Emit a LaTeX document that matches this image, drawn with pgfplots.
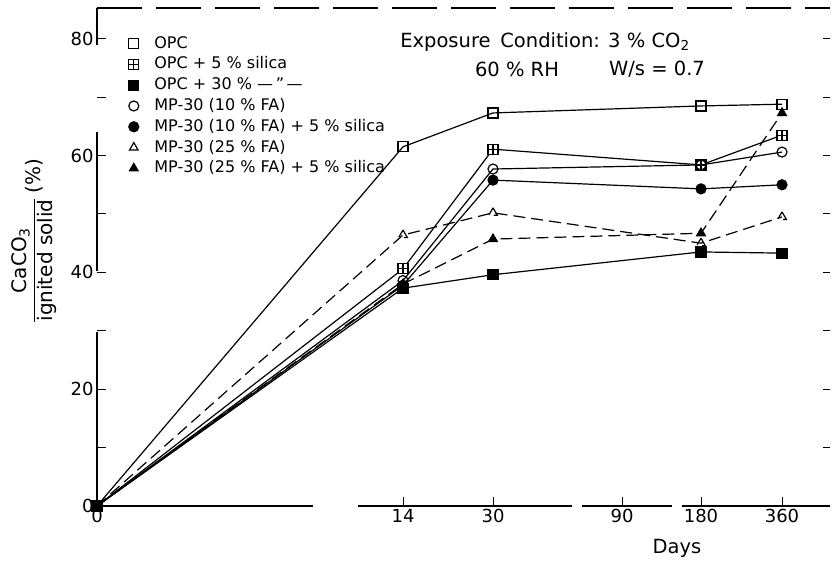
\documentclass[border=0pt]{standalone}
\usepackage{pgfplots}
\pgfplotsset{compat=1.18}
\usepackage{fontspec}
\setmainfont{DejaVu Sans}
\usetikzlibrary{plotmarks}

% square with a plus inside
\pgfdeclareplotmark{boxplus}{%
  \pgfpathrectangle{\pgfpoint{-\pgfplotmarksize}{-\pgfplotmarksize}}{\pgfpoint{2\pgfplotmarksize}{2\pgfplotmarksize}}%
  \pgfusepathqfillstroke
  \pgfpathmoveto{\pgfpoint{-\pgfplotmarksize}{0pt}}\pgfpathlineto{\pgfpoint{\pgfplotmarksize}{0pt}}%
  \pgfpathmoveto{\pgfpoint{0pt}{-\pgfplotmarksize}}\pgfpathlineto{\pgfpoint{0pt}{\pgfplotmarksize}}%
  \pgfusepathqstroke}

\begin{document}
\begin{tikzpicture}
\path[use as bounding box] (0pt,0pt) rectangle (834pt,563pt);
\begin{axis}[
  at={(97pt,57pt)}, anchor=south west,
  scale only axis, width=733pt, height=498pt,
  xmin=0, xmax=733, ymin=0, ymax=85.27,
  axis lines*=left, axis line style={draw=none},
  tick align=inside,
  xtick={0,306,396,525,604,685}, xticklabels={0,14,30,90,180,360},
  ytick={0,20,40,60,80}, minor ytick={10,30,50,70},
  major tick length=9pt, minor tick length=9pt,
  tick style={line width=1pt, black},
  ticklabel style={font=\fontsize{18}{21}\selectfont},
  /pgf/number format/assume math mode=true,
  clip=false,
  every axis plot/.append style={black, line width=1.2pt, mark size=5pt, mark options={solid}},
  legend style={at={(0.0423,0.945)}, anchor=north west, draw=none, fill=none, inner sep=0pt,
    font=\fontsize{16}{19}\selectfont, row sep=4.8pt,
    nodes={inner sep=1pt, text height=11.5pt, text depth=2.5pt}},
  legend cell align=left,
  legend image code/.code={\draw[#1,solid] plot coordinates {(5pt,0pt)}; \path (0pt,0pt) (24pt,0pt);},
]
% OPC
\addplot[mark=square, mark options={fill=white}] coordinates {(0,0)(306,61.5)(396,67.3)(604,68.5)(685,68.8)};
\addlegendentry{OPC}
% OPC + 5% silica
\addplot[mark=boxplus, mark options={fill=white}] coordinates {(0,0)(306,40.6)(396,61.1)(604,58.4)(685,63.5)};
\addlegendentry{OPC + 5 \% silica}
% OPC + 30%
\addplot[mark=square*] coordinates {(0,0)(306,37.3)(396,39.6)(604,43.5)(685,43.3)};
\addlegendentry{OPC + 30 \% ---\,''\,---}
% MP-30 (10% FA)
\addplot[mark=o, mark options={fill=white}] coordinates {(0,0)(306,38.6)(396,57.7)(604,58.4)(685,60.6)};
\addlegendentry{MP-30 (10 \% FA)}
% MP-30 (10% FA) + 5% silica
\addplot[mark=*] coordinates {(0,0)(306,37.8)(396,55.8)(604,54.3)(685,55.0)};
\addlegendentry{MP-30 (10 \% FA) + 5 \% silica}
% MP-30 (25% FA)
\addplot[dashed, dash pattern=on 12pt off 6pt, mark=triangle, mark options={fill=white}] coordinates {(0,0)(306,46.4)(396,50.2)(604,45.0)(685,49.5)};
\addlegendentry{MP-30 (25 \% FA)}
% MP-30 (25% FA) + 5% silica
\addplot[dashed, dash pattern=on 12pt off 6pt, mark=triangle*] coordinates {(0,0)(306,38.0)(396,45.7)(604,46.7)(685,67.3)};
\addlegendentry{MP-30 (25 \% FA) + 5 \% silica}

% broken frame, as in the scan
\draw[line width=1.2pt] (axis cs:0,0) -- (axis cs:216,0);
\draw[line width=1.2pt] (axis cs:261,0) -- (axis cs:475,0);
\draw[line width=1.2pt] (axis cs:485,0) -- (axis cs:575,0);
\draw[line width=1.2pt] (axis cs:585,0) -- (axis cs:733,0);
\draw[line width=1.2pt] (axis cs:0,0) -- (axis cs:0,29.8);
\draw[line width=1.2pt] (axis cs:0,40.2) -- (axis cs:0,64.0);
\draw[line width=1.2pt] (axis cs:0,78.9) -- (axis cs:0,85.27);
\draw[line width=1.2pt, dash pattern=on 45pt off 14pt] (axis cs:0,85.27) -- (axis cs:733,85.27);
\pgfplotsinvokeforeach{10,20,30,40,50,60,70,80}{\draw[line width=1pt] (axis cs:733,#1) -- ++(-7pt,0pt);}
\end{axis}

\node[font=\fontsize{19.5}{22}\selectfont] at (545pt,521pt) {Exposure\enspace Condition: 3 \% CO\textsubscript{2}};
\node[font=\fontsize{19.5}{22}\selectfont] at (517pt,494pt) {60 \% RH};
\node[font=\fontsize{19.5}{22}\selectfont] at (657pt,494pt) {W/s = 0.7};
\node[font=\fontsize{19.5}{22}\selectfont] at (677pt,15pt) {Days};
\node[rotate=90, font=\fontsize{20}{23}\selectfont, inner sep=0pt] at (35pt,323pt)
  {\begin{tabular}{@{}c@{}}CaCO\textsubscript{3}\\[1pt]\hline\rule{0pt}{18pt}ignited solid\end{tabular}\ (\%)};
\end{tikzpicture}
\end{document}
